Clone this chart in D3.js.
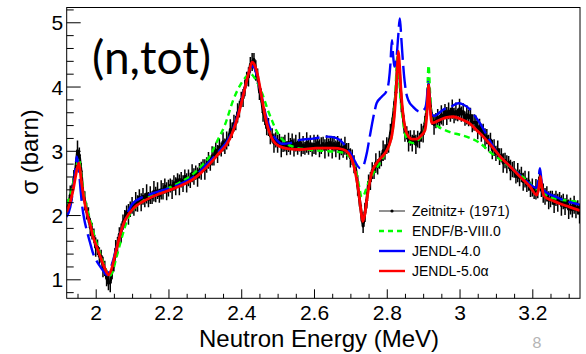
<!DOCTYPE html>
<html><head><meta charset="utf-8">
<script src="https://cdn.jsdelivr.net/npm/d3@7"></script>
<style>body{margin:0;background:#fff}svg{display:block}</style>
</head><body>
<svg id="c" width="586" height="354"></svg>
<script>
// ---------------- data ----------------
const xTicks = [2.0, 2.2, 2.4, 2.6, 2.8, 3.0, 3.2];
const xTickLabels = ["2", "2.2", "2.4", "2.6", "2.8", "3", "3.2"];
const xMinorTicks = [1.95,2.05,2.1,2.15,2.25,2.3,2.35,2.45,2.5,2.55,2.65,2.7,2.75,2.85,2.9,2.95,3.05,3.1,3.15,3.25,3.3];
const yTicks = [1, 2, 3, 4, 5];
const yTickLabels = ["1", "2", "3", "4", "5"];
const yMinorTicks = [0.8,1.2,1.4,1.6,1.8,2.2,2.4,2.6,2.8,3.2,3.4,3.6,3.8,4.2,4.4,4.6,4.8,5.2];
const seriesNames = ["Zeitnitz+ (1971)", "ENDF/B-VIII.0", "JENDL-4.0", "JENDL-5.0\u03b1"];
const reactionLabel = "(n,tot)";
const xTitle = "Neutron Energy (MeV)";
const yTitle = "\u03c3 (barn)";
const pageNumber = "8";

// Zeitnitz+ (1971): [E (MeV), sigma (b), error (b)]
const zeitnitz = [
[1.920,2.12,.13],[1.925,2.13,.11],[1.930,2.31,.15],[1.935,2.35,.12],[1.940,2.56,.14],[1.945,2.71,.10],[1.950,3.00,.16],
[1.955,2.93,.12],[1.960,2.68,.13],[1.965,2.34,.11],[1.970,2.22,.15],[1.975,2.06,.13],[1.980,2.00,.12],[1.985,1.81,.14],
[1.990,1.75,.13],[1.995,1.68,.11],[2.000,1.50,.15],[2.005,1.50,.12],[2.010,1.36,.14],[2.015,1.36,.10],[2.020,1.19,.16],
[2.025,1.17,.12],[2.030,1.02,.13],[2.035,0.94,.11],[2.040,0.95,.15],[2.045,1.13,.13],[2.050,1.24,.12],[2.055,1.47,.14],
[2.060,1.53,.13],[2.065,1.70,.11],[2.070,1.72,.15],[2.075,1.89,.12],[2.080,1.94,.14],[2.085,2.05,.10],[2.090,2.01,.16],
[2.095,2.09,.12],[2.100,2.15,.13],[2.105,2.10,.11],[2.110,2.21,.15],[2.115,2.18,.13],[2.120,2.28,.12],[2.125,2.20,.14],
[2.130,2.29,.13],[2.135,2.23,.11],[2.140,2.33,.15],[2.145,2.24,.12],[2.150,2.31,.14],[2.155,2.27,.10],[2.160,2.37,.16],
[2.165,2.32,.12],[2.170,2.38,.13],[2.175,2.30,.11],[2.180,2.39,.15],[2.185,2.37,.13],[2.190,2.45,.12],[2.195,2.37,.14],
[2.200,2.42,.13],[2.205,2.46,.11],[2.210,2.40,.15],[2.215,2.50,.12],[2.220,2.45,.14],[2.225,2.55,.10],[2.230,2.47,.16],
[2.235,2.55,.12],[2.240,2.49,.13],[2.245,2.60,.11],[2.250,2.50,.15],[2.255,2.58,.13],[2.260,2.54,.12],[2.265,2.65,.14],
[2.270,2.60,.13],[2.275,2.66,.11],[2.280,2.59,.15],[2.285,2.69,.12],[2.290,2.69,.14],[2.295,2.77,.10],[2.300,2.71,.16],
[2.305,2.78,.12],[2.310,2.85,.13],[2.315,2.80,.11],[2.320,2.92,.15],[2.325,2.90,.13],[2.330,3.01,.12],[2.335,2.95,.14],
[2.340,3.06,.13],[2.345,3.02,.11],[2.350,3.14,.15],[2.355,3.07,.12],[2.360,3.16,.14],[2.365,3.17,.10],[2.370,3.33,.16],
[2.375,3.32,.12],[2.380,3.43,.13],[2.385,3.43,.11],[2.390,3.59,.15],[2.395,3.65,.13],[2.400,3.80,.12],[2.405,3.82,.14],
[2.410,3.98,.13],[2.415,4.12,.11],[2.420,4.15,.15],[2.425,4.34,.12],[2.430,4.38,.14],[2.435,4.42,.10],[2.440,4.25,.16],
[2.445,4.16,.12],[2.450,3.92,.13],[2.455,3.86,.11],[2.460,3.60,.15],[2.465,3.53,.13],[2.470,3.36,.12],[2.475,3.37,.14],
[2.480,3.23,.13],[2.485,3.24,.11],[2.490,3.12,.15],[2.495,3.17,.12],[2.500,3.11,.14],[2.505,3.16,.10],[2.510,3.06,.16],
[2.515,3.10,.12],[2.520,3.12,.13],[2.525,3.04,.11],[2.530,3.13,.15],[2.535,3.07,.13],[2.540,3.15,.12],[2.545,3.05,.14],
[2.550,3.12,.13],[2.555,3.05,.11],[2.560,3.14,.15],[2.565,3.03,.12],[2.570,3.09,.14],[2.575,3.04,.10],[2.580,3.13,.16],
[2.585,3.06,.12],[2.590,3.11,.13],[2.595,3.02,.11],[2.600,3.10,.15],[2.605,3.07,.13],[2.610,3.13,.12],[2.615,3.04,.14],
[2.620,3.08,.13],[2.625,3.11,.11],[2.630,3.03,.15],[2.635,3.12,.12],[2.640,3.05,.14],[2.645,3.13,.10],[2.650,3.04,.16],
[2.655,3.11,.12],[2.660,3.03,.13],[2.665,3.12,.11],[2.670,3.01,.15],[2.675,3.06,.13],[2.680,3.01,.12],[2.685,3.08,.14],
[2.690,2.99,.13],[2.695,3.01,.11],[2.700,2.89,.15],[2.705,2.90,.12],[2.710,2.79,.14],[2.715,2.70,.10],[2.720,2.46,.16],
[2.725,2.25,.12],[2.730,2.03,.13],[2.735,1.83,.11],[2.740,2.04,.15],[2.745,2.23,.13],[2.750,2.51,.12],[2.755,2.53,.14],
[2.760,2.69,.13],[2.765,2.67,.11],[2.770,2.81,.15],[2.775,2.75,.12],[2.780,2.86,.14],[2.785,2.86,.10],[2.790,3.00,.16],
[2.795,2.98,.12],[2.800,3.08,.13],[2.805,3.08,.11],[2.810,3.27,.15],[2.815,3.39,.13],[2.820,3.65,.12],[2.825,3.91,.14],
[2.830,4.40,.13],[2.835,4.23,.11],[2.840,3.75,.15],[2.845,3.54,.12],[2.850,3.28,.14],[2.855,3.28,.10],[2.860,3.15,.16],
[2.865,3.20,.12],[2.870,3.12,.13],[2.875,3.21,.11],[2.880,3.10,.15],[2.885,3.18,.13],[2.890,3.16,.12],[2.895,3.28,.14],
[2.900,3.26,.13],[2.905,3.43,.11],[2.910,3.64,.15],[2.915,4.02,.12],[2.920,3.69,.14],[2.925,3.50,.10],[2.930,3.41,.16],
[2.935,3.47,.12],[2.940,3.52,.13],[2.945,3.45,.11],[2.950,3.56,.15],[2.955,3.52,.13],[2.960,3.61,.12],[2.965,3.54,.14],
[2.970,3.62,.13],[2.975,3.56,.11],[2.980,3.65,.15],[2.985,3.55,.12],[2.990,3.61,.14],[2.995,3.56,.10],[3.000,3.65,.16],
[3.005,3.57,.12],[3.010,3.61,.13],[3.015,3.50,.11],[3.020,3.56,.15],[3.025,3.51,.13],[3.030,3.55,.12],[3.035,3.43,.14],
[3.040,3.44,.13],[3.045,3.44,.11],[3.050,3.33,.15],[3.055,3.38,.12],[3.060,3.28,.14],[3.065,3.32,.10],[3.070,3.19,.16],
[3.075,3.22,.12],[3.080,3.12,.13],[3.085,3.17,.11],[3.090,3.02,.15],[3.095,3.05,.13],[3.100,2.96,.12],[3.105,3.02,.14],
[3.110,2.91,.13],[3.115,2.93,.11],[3.120,2.81,.15],[3.125,2.85,.12],[3.130,2.79,.14],[3.135,2.82,.10],[3.140,2.70,.16],
[3.145,2.71,.12],[3.150,2.71,.13],[3.155,2.60,.11],[3.160,2.66,.15],[3.165,2.58,.13],[3.170,2.63,.12],[3.175,2.52,.14],
[3.180,2.56,.13],[3.185,2.47,.11],[3.190,2.53,.15],[3.195,2.40,.12],[3.200,2.43,.14],[3.205,2.35,.10],[3.210,2.40,.16],
[3.215,2.38,.12],[3.220,2.58,.13],[3.225,2.39,.11],[3.230,2.34,.15],[3.235,2.29,.13],[3.240,2.33,.12],[3.245,2.23,.14],
[3.250,2.25,.13],[3.255,2.27,.11],[3.260,2.18,.15],[3.265,2.26,.12],[3.270,2.19,.14],[3.275,2.26,.10],[3.280,2.15,.16],
[3.285,2.21,.12],[3.290,2.13,.13],[3.295,2.21,.11],[3.300,2.09,.15],[3.305,2.14,.13],[3.310,2.08,.12],[3.315,2.16,.14],
[3.320,2.08,.13],[3.325,2.12,.11],[3.330,2.02,.15]
];

// ENDF/B-VIII.0: [E, sigma]
const endf = [
[1.920,2.18],[1.930,2.30],[1.940,2.55],[1.948,2.78],[1.954,2.88],[1.960,2.62],[1.968,2.30],[1.976,2.10],[1.986,1.90],
[1.995,1.70],[2.006,1.50],[2.017,1.32],[2.027,1.16],[2.036,1.05],[2.045,1.10],[2.056,1.32],[2.066,1.53],[2.078,1.77],
[2.088,1.94],[2.098,2.05],[2.110,2.13],[2.130,2.22],[2.150,2.29],[2.175,2.36],[2.204,2.43],[2.235,2.52],[2.268,2.64],
[2.290,2.76],[2.314,2.92],[2.333,3.14],[2.355,3.40],[2.378,3.79],[2.400,4.05],[2.413,4.15],[2.424,4.20],[2.435,4.15],
[2.448,4.02],[2.461,3.84],[2.472,3.65],[2.484,3.48],[2.495,3.33],[2.507,3.22],[2.525,3.11],[2.544,3.06],[2.580,3.02],
[2.620,3.00],[2.672,2.98],[2.690,2.94],[2.700,2.90],[2.710,2.80],[2.717,2.65],[2.724,2.45],[2.731,2.28],[2.738,2.32],
[2.746,2.45],[2.763,2.65],[2.780,2.80],[2.791,2.91],[2.800,3.00],[2.809,3.12],[2.817,3.35],[2.823,3.79],[2.829,4.46],
[2.833,4.20],[2.838,3.80],[2.845,3.45],[2.850,3.27],[2.860,3.15],[2.873,3.12],[2.885,3.16],[2.895,3.22],[2.905,3.35],
[2.910,3.70],[2.915,4.33],[2.919,3.90],[2.924,3.45],[2.930,3.42],[2.946,3.36],[2.974,3.29],[3.001,3.25],[3.029,3.20],
[3.056,3.12],[3.084,2.98],[3.120,2.83],[3.157,2.67],[3.194,2.49],[3.210,2.40],[3.217,2.45],[3.221,2.52],[3.226,2.40],
[3.235,2.32],[3.260,2.26],[3.290,2.23],[3.331,2.21]
];

// JENDL-4.0: [E, sigma]
const jendl4 = [
[1.920,1.97],[1.930,2.12],[1.938,2.40],[1.944,2.70],[1.948,2.91],[1.953,2.75],[1.958,2.42],[1.962,2.18],[1.968,1.95],
[1.975,1.77],[1.984,1.58],[1.993,1.40],[2.002,1.29],[2.012,1.20],[2.022,1.12],[2.030,1.07],[2.038,1.13],[2.048,1.30],
[2.058,1.51],[2.070,1.75],[2.081,1.92],[2.090,2.06],[2.099,2.16],[2.110,2.22],[2.122,2.26],[2.140,2.30],[2.158,2.34],
[2.180,2.38],[2.204,2.42],[2.235,2.49],[2.268,2.59],[2.290,2.70],[2.314,2.84],[2.340,3.00],[2.360,3.14],[2.375,3.30],
[2.390,3.55],[2.405,3.87],[2.418,4.15],[2.427,4.32],[2.435,4.30],[2.445,4.12],[2.456,3.85],[2.470,3.50],[2.483,3.30],
[2.497,3.17],[2.512,3.11],[2.534,3.12],[2.562,3.17],[2.598,3.19],[2.635,3.22],[2.660,3.20],[2.680,3.12],[2.694,3.01],
[2.705,2.92],[2.713,2.83],[2.727,2.73],[2.735,2.76],[2.745,2.96],[2.752,3.18],[2.759,3.40],[2.766,3.60],[2.772,3.74],
[2.786,3.84],[2.800,3.94],[2.806,4.10],[2.810,4.35],[2.814,4.72],[2.818,4.45],[2.821,4.31],[2.826,4.40],[2.831,4.75],
[2.836,5.06],[2.840,4.75],[2.843,4.50],[2.847,4.20],[2.852,3.95],[2.859,3.79],[2.873,3.68],[2.891,3.61],[2.905,3.66],
[2.910,3.80],[2.914,4.07],[2.918,3.80],[2.922,3.58],[2.930,3.54],[2.937,3.56],[2.955,3.64],[2.974,3.68],[2.997,3.74],
[3.010,3.72],[3.029,3.64],[3.045,3.52],[3.056,3.43],[3.075,3.24],[3.093,3.06],[3.110,2.92],[3.130,2.80],[3.150,2.70],
[3.166,2.62],[3.185,2.52],[3.203,2.44],[3.212,2.42],[3.217,2.55],[3.221,2.73],[3.225,2.55],[3.230,2.40],[3.245,2.33],
[3.267,2.28],[3.290,2.22],[3.310,2.19],[3.331,2.16]
];

// JENDL-5.0alpha: [E, sigma]
const jendl5 = [
[1.920,2.05],[1.930,2.20],[1.940,2.45],[1.948,2.70],[1.954,2.81],[1.960,2.55],[1.968,2.25],[1.975,2.05],[1.985,1.85],
[1.993,1.66],[2.005,1.47],[2.016,1.30],[2.025,1.17],[2.035,1.07],[2.043,1.15],[2.053,1.37],[2.062,1.58],[2.071,1.77],
[2.080,1.91],[2.090,2.01],[2.100,2.08],[2.113,2.15],[2.130,2.21],[2.150,2.27],[2.175,2.33],[2.204,2.39],[2.235,2.46],
[2.268,2.56],[2.290,2.66],[2.314,2.80],[2.340,2.97],[2.360,3.10],[2.375,3.27],[2.390,3.52],[2.405,3.85],[2.420,4.20],
[2.430,4.38],[2.437,4.33],[2.445,4.18],[2.456,3.84],[2.470,3.43],[2.480,3.25],[2.490,3.14],[2.505,3.07],[2.530,3.03],
[2.562,3.02],[2.607,3.04],[2.653,3.04],[2.680,3.02],[2.695,2.96],[2.705,2.85],[2.713,2.68],[2.722,2.39],[2.728,2.12],
[2.734,1.90],[2.740,2.02],[2.745,2.23],[2.752,2.48],[2.759,2.66],[2.770,2.79],[2.781,2.87],[2.795,2.96],[2.806,3.08],
[2.815,3.27],[2.821,3.55],[2.826,3.95],[2.830,4.40],[2.832,4.55],[2.835,4.35],[2.839,3.95],[2.845,3.55],[2.852,3.32],
[2.860,3.22],[2.870,3.18],[2.882,3.18],[2.895,3.24],[2.905,3.32],[2.910,3.55],[2.915,4.02],[2.919,3.68],[2.924,3.43],
[2.935,3.45],[2.946,3.48],[2.965,3.52],[2.983,3.53],[3.005,3.49],[3.029,3.42],[3.047,3.32],[3.065,3.22],[3.084,3.10],
[3.100,2.99],[3.120,2.86],[3.140,2.75],[3.157,2.65],[3.175,2.55],[3.194,2.44],[3.212,2.31],[3.218,2.42],[3.222,2.60],
[3.226,2.45],[3.232,2.30],[3.245,2.25],[3.258,2.22],[3.275,2.18],[3.295,2.14],[3.315,2.10],[3.331,2.07]
];

// ---------------- drawing ----------------
const svg = d3.select("#c");
const FONT = "'Liberation Sans', Arial, Helvetica, sans-serif";
const L = 66.7, R = 580, T = 7.5, B = 298.3;
const x = d3.scaleLinear().domain([1.9203, 3.3311]).range([L, R]);
const y = d3.scaleLinear().domain([0.7043, 5.230]).range([B, T]);

svg.append("rect").attr("width", 586).attr("height", 354).attr("fill", "#fff");

svg.append("defs").append("clipPath").attr("id", "clip")
  .append("rect").attr("x", L).attr("y", T).attr("width", R - L).attr("height", B - T);

const plot = svg.append("g").attr("clip-path", "url(#clip)");

// experimental data
const zg = plot.append("g");
zg.selectAll("line.eb").data(zeitnitz).join("line")
  .attr("x1", d => x(d[0])).attr("x2", d => x(d[0]))
  .attr("y1", d => y(d[1] - d[2])).attr("y2", d => y(d[1] + d[2]))
  .attr("stroke", "#000").attr("stroke-width", 1.5);
zg.append("path").datum(zeitnitz)
  .attr("d", d3.line().x(d => x(d[0])).y(d => y(d[1])))
  .attr("fill", "none").attr("stroke", "#000").attr("stroke-width", 2.8)
  .attr("stroke-linejoin", "round");
zg.selectAll("circle").data(zeitnitz).join("circle")
  .attr("cx", d => x(d[0])).attr("cy", d => y(d[1])).attr("r", 1.4).attr("fill", "#000");

const line = d3.line().x(d => x(d[0])).y(d => y(d[1])).curve(d3.curveMonotoneX);
const styles = [
  null,
  {data: endf,   color: "#00ff00", w: 2.4, dash: "6,4"},
  {data: jendl4, color: "#0000ff", w: 2.4, dash: "22,6"},
  {data: jendl5, color: "#ff0000", w: 2.8, dash: null}
];
styles.forEach(s => {
  if (!s) return;
  plot.append("path").datum(s.data).attr("d", line)
    .attr("fill", "none").attr("stroke", s.color).attr("stroke-width", s.w)
    .attr("stroke-dasharray", s.dash).attr("stroke-linejoin", "round");
});

// axes
const gx = svg.append("g").attr("transform", `translate(0,${B})`);
gx.call(d3.axisBottom(x).tickValues(xMinorTicks).tickSize(-4.5).tickFormat(""));
const gx2 = svg.append("g").attr("transform", `translate(0,${B})`);
gx2.call(d3.axisBottom(x).tickValues(xTicks).tickSize(-9).tickPadding(6.3)
  .tickFormat((d, i) => xTickLabels[i]));
const gy = svg.append("g").attr("transform", `translate(${L},0)`);
gy.call(d3.axisLeft(y).tickValues(yMinorTicks).tickSize(-7).tickFormat(""));
const gy2 = svg.append("g").attr("transform", `translate(${L},0)`);
gy2.call(d3.axisLeft(y).tickValues(yTicks).tickSize(-14).tickPadding(3.4)
  .tickFormat((d, i) => yTickLabels[i]));
[gx, gx2, gy, gy2].forEach(g => {
  g.select(".domain").remove();
  g.selectAll("line").attr("stroke", "#000").attr("stroke-width", 1);
  g.selectAll("text").attr("font-family", FONT).attr("font-size", 21).attr("fill", "#000");
});
gy2.selectAll("text").attr("dy", "0.36em");

// frame
svg.append("rect").attr("x", L).attr("y", T).attr("width", R - L).attr("height", B - T)
  .attr("fill", "none").attr("stroke", "#000").attr("stroke-width", 1);

// titles
svg.append("text").attr("x", 319).attr("y", 347).attr("text-anchor", "middle")
  .attr("font-family", FONT).attr("font-size", 24).text(xTitle);
svg.append("text").attr("transform", "translate(38,152) rotate(-90)").attr("text-anchor", "middle")
  .attr("font-family", FONT).attr("font-size", 24).text(yTitle);

// reaction label
const rl = svg.append("text").attr("x", 92).attr("y", 74)
  .attr("font-family", "Lato, 'Open Sans', sans-serif").attr("font-size", 44).text(reactionLabel);
const rw = rl.node().getComputedTextLength();
rl.attr("font-size", 44 * 119 / rw);

// legend
const lg = svg.append("g");
const rowsY = [211, 231, 251, 271];
seriesNames.forEach((name, i) => {
  const yy = rowsY[i];
  if (i === 0) {
    lg.append("line").attr("x1", 379).attr("x2", 405).attr("y1", yy).attr("y2", yy)
      .attr("stroke", "#555").attr("stroke-width", 1.3);
    lg.append("circle").attr("cx", 392).attr("cy", yy).attr("r", 1.6).attr("fill", "#000");
  } else {
    const s = styles[i];
    lg.append("line").attr("x1", 379).attr("x2", 405).attr("y1", yy).attr("y2", yy)
      .attr("stroke", s.color).attr("stroke-width", 2.4)
      .attr("stroke-dasharray", i === 1 ? "5,4" : null);
  }
  lg.append("text").attr("x", 412).attr("y", yy + 5).attr("font-family", FONT)
    .attr("font-size", 14).attr("fill", "#000").text(name);
});

// page number
svg.append("text").attr("x", 537).attr("y", 348).attr("text-anchor", "middle")
  .attr("font-family", "Lato, sans-serif").attr("font-size", 16).attr("fill", "#b5b5b5").text(pageNumber);
</script>
</body></html>
